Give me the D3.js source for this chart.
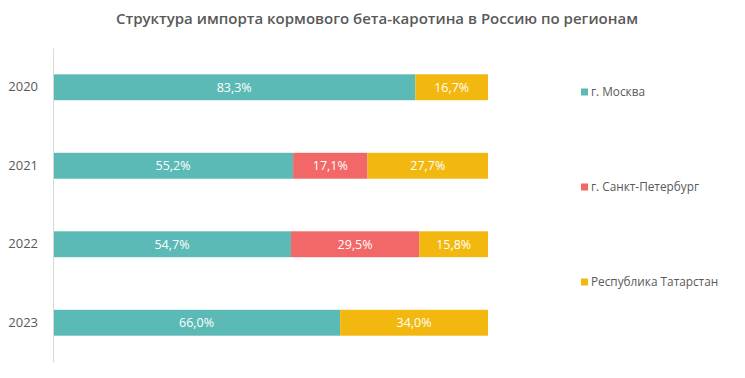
<!DOCTYPE html>
<html>
<head>
<meta charset="utf-8">
<script src="https://cdn.jsdelivr.net/npm/d3@7"></script>
<style>
  body { margin: 0; background: #fff; }
  svg { font-family: 'Open Sans', 'DejaVu Sans', sans-serif; }
</style>
</head>
<body>
<svg id="chart" width="745" height="378"></svg>
<script>
'use strict';

var years = ['2020', '2021', '2022', '2023'];
var regions = ['г. Москва', 'г. Санкт-Петербург', 'Республика Татарстан'];
var colors = ['#5bbab5', '#f26767', '#f2b80f'];
// share of import, %, per region (same order as regions)
var moscow = [83.3, 55.2, 54.7, 66.0];
var spb = [0, 17.1, 29.5, 0];
var tatarstan = [16.7, 27.7, 15.8, 34.0];

var series = [moscow, spb, tatarstan];

var svg = d3.select('#chart');
var margin = {left: 53, top: 48, right: 257, bottom: 16};
var width = 745 - margin.left - margin.right;
var height = 378 - margin.top - margin.bottom;

svg.append('text')
  .attr('x', 377).attr('y', 24)
  .attr('text-anchor', 'middle')
  .attr('fill', '#595959')
  .style('font-size', '15px')
  .style('font-weight', '600')
  .text('Структура импорта кормового бета-каротина в Россию по регионам');

var g = svg.append('g').attr('transform', 'translate(' + margin.left + ',' + margin.top + ')');

var x = d3.scaleLinear().domain([0, 100]).range([0, width]);
var y = d3.scaleBand().domain(years).range([0, height]).paddingInner(0.67).paddingOuter(0.335);

// stack the rows
var rows = years.map(function(yr, i) {
  var row = {year: yr};
  regions.forEach(function(r, k) { row[r] = series[k][i]; });
  return row;
});
var stacked = d3.stack().keys(regions)(rows);

var layers = g.selectAll('g.layer').data(stacked).enter().append('g')
  .attr('class', 'layer')
  .attr('fill', function(d, k) { return colors[k]; });

layers.selectAll('rect').data(function(d) { return d.filter(function(p) { return p[1] - p[0] > 0; }); })
  .enter().append('rect')
  .attr('x', function(d) { return x(d[0]); })
  .attr('y', function(d) { return y(d.data.year); })
  .attr('width', function(d) { return x(d[1]) - x(d[0]); })
  .attr('height', y.bandwidth());

layers.selectAll('text').data(function(d) { return d.filter(function(p) { return p[1] - p[0] > 0; }); })
  .enter().append('text')
  .attr('x', function(d) { return (x(d[0]) + x(d[1])) / 2; })
  .attr('y', function(d) { return y(d.data.year) + y.bandwidth() / 2; })
  .attr('dy', '0.35em')
  .attr('text-anchor', 'middle')
  .attr('fill', '#fff')
  .style('font-size', '12.5px')
  .text(function(d) { return d3.format('.1f')(d[1] - d[0]).replace('.', ',') + '%'; });

// category axis
var yAxis = g.append('g').call(d3.axisLeft(y).tickSize(0).tickPadding(15));
yAxis.select('.domain').attr('stroke', '#d9d9d9').attr('stroke-width', 1);
yAxis.selectAll('text').attr('fill', '#595959').style('font-size', '13px').style('font-family', "'Open Sans', sans-serif");

// legend
var legendY = d3.scalePoint().domain(regions).range([92, 282]);
var legend = svg.append('g').selectAll('g').data(regions).enter().append('g')
  .attr('transform', function(d) { return 'translate(581,' + legendY(d) + ')'; });
legend.append('rect')
  .attr('x', 0).attr('y', -3.5).attr('width', 7).attr('height', 7)
  .attr('fill', function(d, k) { return colors[k]; });
legend.append('text')
  .attr('x', 10).attr('dy', '0.35em')
  .attr('fill', '#595959')
  .style('font-size', '11.8px')
  .text(function(d) { return d; });
</script>
</body>
</html>
